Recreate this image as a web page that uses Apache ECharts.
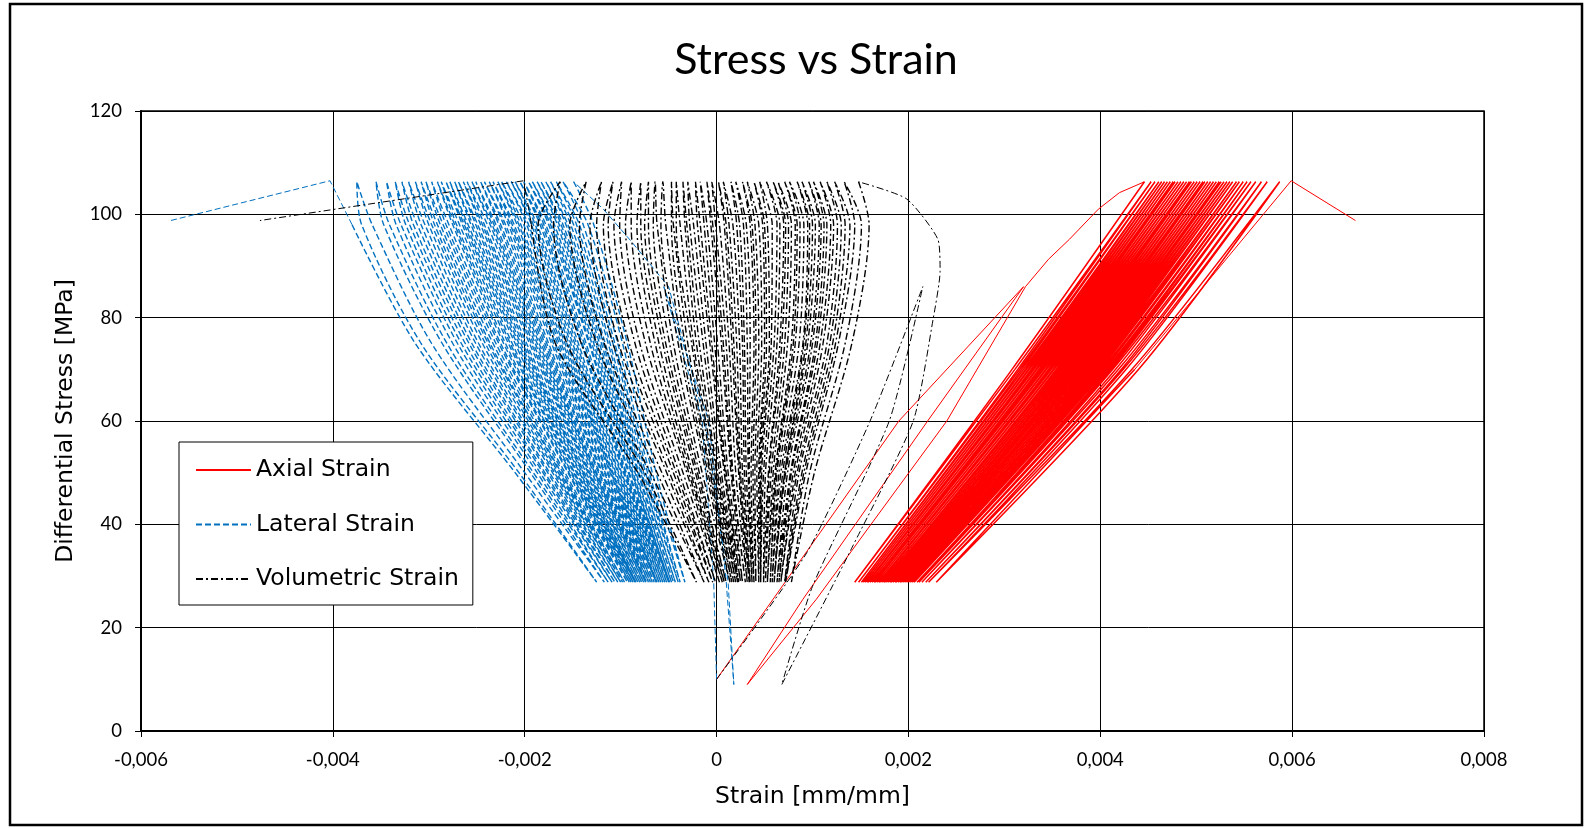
<!DOCTYPE html>
<html>
<head>
<meta charset="utf-8">
<title>Stress vs Strain</title>
<script src="https://cdn.jsdelivr.net/npm/echarts@6/dist/echarts.min.js"></script>
<style>
  html, body { margin: 0; padding: 0; background: #fff; }
  #chart { width: 1593px; height: 828px; }
</style>
</head>
<body>
<div id="chart"></div>
<script>
// stress levels (MPa) at which each unloading / reloading branch is read
const cycleStress = [28.8, 50, 75, 98, 106.3]
const axialCycleStress = [28.8, 70, 106.3]

// first load / unload / reload up to the first 106 MPa peak
const axialStartStrain = [0, 0.00114, 0.0019, 0.0032, 0.0022, 0.0009, 0.00032, 0.00104, 0.00161, 0.0024, 0.00322, 0.00346, 0.00368, 0.00398, 0.0042, 0.00446]
const axialStartStress = [10, 40, 60, 86, 60, 25.5, 9, 25.5, 40, 60, 86, 91.3, 95.2, 101, 104.2, 106.3]
const lateralStartStrain = [0, -0.00003, -0.00015, -0.00055, -0.00008, 0.0001, 0.00018, 0.00012, -0.00012, -0.0005, -0.0009, -0.00118, -0.00149]
const lateralStartStress = [10, 29, 60, 86, 60, 29, 9, 29, 60, 86, 95, 101, 106.3]
const volStartStrain = [0, 0.00094, 0.0016, 0.00215, 0.0018, 0.001, 0.00068, 0.00142, 0.00205, 0.00226, 0.00233, 0.00231, 0.00198, 0.00148]
const volStartStress = [10, 34.5, 60, 86, 60, 28, 9, 35.8, 60, 80, 89, 95, 103, 106.3]

// unloading branches, one value per cycle
const axialAt29 = [0.00144, 0.00148, 0.00151, 0.00153, 0.00155, 0.00157, 0.00158, 0.0016, 0.00162, 0.00164, 0.00165, 0.00167, 0.00169, 0.0017, 0.00172, 0.00174, 0.00175, 0.00177, 0.00179, 0.00181, 0.00182, 0.00184, 0.00186, 0.00187, 0.00189, 0.00191, 0.00192, 0.00194, 0.00196, 0.00198, 0.002, 0.00202, 0.00204, 0.00206, 0.00209, 0.00211, 0.00214, 0.00218, 0.00221, 0.00229]
const axialAt70 = [0.00308, 0.00314, 0.00318, 0.00322, 0.00325, 0.00328, 0.0033, 0.00333, 0.00336, 0.00338, 0.0034, 0.00343, 0.00346, 0.00348, 0.00351, 0.00354, 0.00356, 0.00359, 0.00362, 0.00365, 0.00367, 0.0037, 0.00372, 0.00375, 0.00378, 0.00381, 0.00382, 0.00385, 0.00388, 0.00391, 0.00394, 0.00397, 0.004, 0.00404, 0.00408, 0.00411, 0.00416, 0.00422, 0.00427, 0.0044]
const axialAt106 = [0.00446, 0.00453, 0.00457, 0.00461, 0.00464, 0.00467, 0.0047, 0.00473, 0.00476, 0.00478, 0.00481, 0.00484, 0.00487, 0.0049, 0.00493, 0.00495, 0.00498, 0.00501, 0.00504, 0.00507, 0.00509, 0.00512, 0.00515, 0.00518, 0.00521, 0.00524, 0.00526, 0.00529, 0.00532, 0.00535, 0.00538, 0.00542, 0.00545, 0.00549, 0.00553, 0.00557, 0.00562, 0.00568, 0.00574, 0.00587]

const lateralAt29 = [-0.00033, -0.00038, -0.0004, -0.00043, -0.00045, -0.00047, -0.00049, -0.0005, -0.00052, -0.00054, -0.00056, -0.00058, -0.0006, -0.00062, -0.00063, -0.00065, -0.00067, -0.00069, -0.00071, -0.00073, -0.00074, -0.00076, -0.00078, -0.0008, -0.00082, -0.00084, -0.00085, -0.00087, -0.00089, -0.00091, -0.00093, -0.00096, -0.00098, -0.001, -0.00103, -0.00106, -0.00109, -0.00113, -0.00117, -0.00125]
const lateralAt50 = [-0.00063, -0.0007, -0.00074, -0.00078, -0.00081, -0.00084, -0.00087, -0.00089, -0.00092, -0.00095, -0.00097, -0.001, -0.00103, -0.00106, -0.00109, -0.00111, -0.00114, -0.00117, -0.0012, -0.00123, -0.00126, -0.00128, -0.00132, -0.00134, -0.00138, -0.0014, -0.00143, -0.00146, -0.00149, -0.00152, -0.00155, -0.0016, -0.00163, -0.00167, -0.00171, -0.00176, -0.00181, -0.00187, -0.00194, -0.00206]
const lateralAt75 = [-0.00093, -0.00103, -0.00108, -0.00113, -0.00118, -0.00122, -0.00126, -0.0013, -0.00133, -0.00138, -0.00141, -0.00146, -0.0015, -0.00154, -0.00158, -0.00162, -0.00166, -0.0017, -0.00175, -0.00179, -0.00183, -0.00187, -0.00191, -0.00195, -0.002, -0.00204, -0.00208, -0.00213, -0.00217, -0.00222, -0.00227, -0.00233, -0.00238, -0.00244, -0.00251, -0.00258, -0.00266, -0.00275, -0.00286, -0.00308]
const lateralAt98 = [-0.00128, -0.00139, -0.00146, -0.00152, -0.00157, -0.00162, -0.00166, -0.00171, -0.00175, -0.0018, -0.00184, -0.00189, -0.00193, -0.00198, -0.00204, -0.00208, -0.00213, -0.00217, -0.00222, -0.00227, -0.00232, -0.00236, -0.00242, -0.00246, -0.00251, -0.00256, -0.00261, -0.00265, -0.00271, -0.00275, -0.00282, -0.00288, -0.00294, -0.003, -0.00308, -0.00316, -0.00324, -0.00334, -0.00347, -0.0037]
const lateralAt106 = [-0.00149, -0.0016, -0.00167, -0.00173, -0.00178, -0.00183, -0.00187, -0.00192, -0.00196, -0.00201, -0.00205, -0.0021, -0.00214, -0.00219, -0.00224, -0.00228, -0.00233, -0.00237, -0.00242, -0.00246, -0.00251, -0.00255, -0.0026, -0.00264, -0.00269, -0.00273, -0.00278, -0.00282, -0.00287, -0.00291, -0.00297, -0.00303, -0.00308, -0.00314, -0.00321, -0.00328, -0.00335, -0.00344, -0.00355, -0.00375]

const volAt29 = [0.00078, 0.00072, 0.00071, 0.00067, 0.00065, 0.00063, 0.0006, 0.0006, 0.00058, 0.00056, 0.00053, 0.00051, 0.00049, 0.00046, 0.00046, 0.00044, 0.00041, 0.00039, 0.00037, 0.00035, 0.00034, 0.00032, 0.0003, 0.00027, 0.00025, 0.00023, 0.00022, 0.0002, 0.00018, 0.00016, 0.00014, 0.0001, 0.00008, 0.00006, 0.00003, -0.00001, -0.00004, -0.00008, -0.00013, -0.00021]
const volAt50 = [0.00102, 0.00093, 0.00089, 0.00084, 0.0008, 0.00077, 0.00072, 0.00071, 0.00067, 0.00063, 0.00061, 0.00057, 0.00054, 0.00049, 0.00046, 0.00044, 0.0004, 0.00036, 0.00033, 0.00029, 0.00025, 0.00023, 0.00017, 0.00015, 0.0001, 0.00008, 0.00003, 0, -0.00004, -0.00007, -0.00011, -0.00018, -0.00022, -0.00027, -0.00031, -0.00039, -0.00045, -0.00052, -0.00062, -0.00075]
const volAt75 = [0.00141, 0.00127, 0.00121, 0.00115, 0.00108, 0.00103, 0.00098, 0.00093, 0.0009, 0.00082, 0.00078, 0.00071, 0.00066, 0.0006, 0.00055, 0.0005, 0.00044, 0.00039, 0.00032, 0.00027, 0.00021, 0.00016, 0.0001, 0.00005, -0.00002, -0.00007, -0.00014, -0.00021, -0.00026, -0.00033, -0.0004, -0.00049, -0.00056, -0.00064, -0.00074, -0.00085, -0.00096, -0.00108, -0.00125, -0.00156]
const volAt98 = [0.00159, 0.00144, 0.00134, 0.00126, 0.00119, 0.00112, 0.00107, 0.001, 0.00095, 0.00087, 0.00082, 0.00075, 0.0007, 0.00063, 0.00053, 0.00048, 0.0004, 0.00035, 0.00028, 0.00021, 0.00013, 0.00008, -0.00001, -0.00006, -0.00013, -0.0002, -0.00028, -0.00033, -0.00042, -0.00047, -0.00058, -0.00066, -0.00075, -0.00083, -0.00095, -0.00107, -0.00118, -0.00132, -0.00153, -0.00186]
const volAt106 = [0.00148, 0.00133, 0.00123, 0.00115, 0.00108, 0.00101, 0.00096, 0.00089, 0.00084, 0.00076, 0.00071, 0.00064, 0.00059, 0.00052, 0.00045, 0.00039, 0.00032, 0.00027, 0.0002, 0.00015, 0.00007, 0.00002, -0.00005, -0.0001, -0.00017, -0.00022, -0.0003, -0.00035, -0.00042, -0.00047, -0.00056, -0.00064, -0.00071, -0.00079, -0.00089, -0.00099, -0.00108, -0.0012, -0.00136, -0.00163]

// reloading branches (from each 28.8 MPa trough up to the next peak)
const axialLoad70 = [0.00311, 0.00316, 0.0032, 0.00323, 0.00326, 0.00329, 0.00331, 0.00334, 0.00337, 0.00339, 0.00341, 0.00344, 0.00347, 0.00349, 0.00352, 0.00355, 0.00357, 0.0036, 0.00363, 0.00366, 0.00368, 0.00371, 0.00373, 0.00376, 0.00379, 0.00381, 0.00383, 0.00386, 0.00389, 0.00392, 0.00395, 0.00398, 0.00402, 0.00406, 0.00409, 0.00413, 0.00419, 0.00424, 0.00433, 0.00436]

const lateralLoad50 = [-0.00067, -0.00072, -0.00076, -0.00079, -0.00082, -0.00085, -0.00088, -0.00091, -0.00094, -0.00096, -0.00099, -0.00102, -0.00105, -0.00108, -0.0011, -0.00113, -0.00116, -0.00119, -0.00122, -0.00125, -0.00127, -0.0013, -0.00133, -0.00136, -0.00139, -0.00142, -0.00145, -0.00148, -0.00151, -0.00154, -0.00158, -0.00162, -0.00165, -0.00169, -0.00174, -0.00179, -0.00184, -0.00191, -0.002, -0.0021]
const lateralLoad75 = [-0.00098, -0.00106, -0.00111, -0.00116, -0.0012, -0.00124, -0.00128, -0.00132, -0.00136, -0.0014, -0.00144, -0.00148, -0.00152, -0.00156, -0.0016, -0.00164, -0.00168, -0.00172, -0.00177, -0.00181, -0.00185, -0.00189, -0.00193, -0.00198, -0.00202, -0.00206, -0.0021, -0.00215, -0.0022, -0.00225, -0.0023, -0.00236, -0.00241, -0.00248, -0.00255, -0.00262, -0.0027, -0.00281, -0.00297, -0.00314]
const lateralLoad98 = [-0.00134, -0.00143, -0.00149, -0.00155, -0.0016, -0.00164, -0.00169, -0.00173, -0.00178, -0.00182, -0.00187, -0.00191, -0.00196, -0.00201, -0.00206, -0.00211, -0.00215, -0.0022, -0.00225, -0.0023, -0.00234, -0.00239, -0.00244, -0.00249, -0.00254, -0.00259, -0.00263, -0.00268, -0.00273, -0.00279, -0.00285, -0.00291, -0.00297, -0.00304, -0.00312, -0.0032, -0.00329, -0.00341, -0.00359, -0.0038]

const volLoad50 = [0.00097, 0.00091, 0.00086, 0.00082, 0.00078, 0.00074, 0.00071, 0.00069, 0.00065, 0.00062, 0.00059, 0.00055, 0.00051, 0.00047, 0.00045, 0.00042, 0.00038, 0.00034, 0.00031, 0.00027, 0.00024, 0.0002, 0.00016, 0.00012, 0.00009, 0.00005, 0.00001, -0.00002, -0.00006, -0.00009, -0.00015, -0.0002, -0.00025, -0.00029, -0.00035, -0.00042, -0.00049, -0.00057, -0.00069, -0.00082]
const volLoad75 = [0.00134, 0.00124, 0.00118, 0.00111, 0.00105, 0.001, 0.00095, 0.00091, 0.00086, 0.0008, 0.00074, 0.00068, 0.00063, 0.00057, 0.00052, 0.00047, 0.00041, 0.00035, 0.00029, 0.00024, 0.00018, 0.00013, 0.00007, 0.00001, -0.00005, -0.00011, -0.00018, -0.00024, -0.0003, -0.00037, -0.00045, -0.00053, -0.0006, -0.00069, -0.0008, -0.00091, -0.00102, -0.00117, -0.00141, -0.00168]
const volLoad98 = [0.00151, 0.00139, 0.0013, 0.00122, 0.00115, 0.00109, 0.00103, 0.00097, 0.00091, 0.00084, 0.00078, 0.00072, 0.00066, 0.00058, 0.0005, 0.00044, 0.00037, 0.00031, 0.00024, 0.00017, 0.0001, 0.00003, -0.00004, -0.0001, -0.00017, -0.00024, -0.00031, -0.00038, -0.00045, -0.00053, -0.00062, -0.00071, -0.00079, -0.00089, -0.00101, -0.00113, -0.00125, -0.00143, -0.0017, -0.00193]

// last peak and post-peak drop
const axialEndStrain = [0.00599, 0.00666]
const lateralEndStrain = [-0.00403, -0.00569]
const volEndStrain = [-0.00201, -0.00476]
const endStress = [106.5, 98.8]

const xTicks = { min: -0.006, max: 0.008, step: 0.002 }
const yTicks = { min: 0, max: 120, step: 20 }

const pairs = (xs, ys) => xs.map((x, k) => [x, ys[k]])

// for each cycle: unload top -> trough, then reload trough -> next top
function buildCycles(levels, unload, load) {
  const pts = []
  const top = levels.length - 1
  for (let i = 0; i < unload[0].length; i++) {
    for (let k = top; k >= 0; k--) pts.push([unload[k][i], levels[k]])
    for (let k = 1; k < top; k++) pts.push([load[k - 1][i], levels[k]])
  }
  return pts
}

const axialCycles = buildCycles(axialCycleStress, [axialAt29, axialAt70, axialAt106], [axialLoad70])
const lateralCycles = buildCycles(cycleStress,
  [lateralAt29, lateralAt50, lateralAt75, lateralAt98, lateralAt106],
  [lateralLoad50, lateralLoad75, lateralLoad98])
const volCycles = buildCycles(cycleStress,
  [volAt29, volAt50, volAt75, volAt98, volAt106],
  [volLoad50, volLoad75, volLoad98])

// start and end pieces share the colour / name of their cycle series
const axialOuter = pairs(axialStartStrain, axialStartStress)
const lateralOuter = pairs(lateralStartStrain, lateralStartStress)
const volOuter = pairs(volStartStrain, volStartStress)
const axialTail = [axialCycles[axialCycles.length - 1]].concat(pairs(axialEndStrain, endStress))
const lateralTail = [lateralCycles[lateralCycles.length - 1]].concat(pairs(lateralEndStrain, endStress))
const volTail = [volCycles[volCycles.length - 1]].concat(pairs(volEndStrain, endStress))

const TITLE_FONT = 'Lato, "DejaVu Sans", sans-serif'
const TEXT_FONT = '"DejaVu Sans", sans-serif'

const RED = '#ff0000'
const BLUE = '#0070c0'
const BLACK = '#000000'
const DASH = [6, 3]
const DASH_DOT = [7, 3, 2, 3]

function lineSeries(name, data, color, width, type, smooth) {
  return {
    name, type: 'line', data, color,
    symbol: 'none', silent: true, smooth,
    lineStyle: { color, width, type }
  }
}

const chart = echarts.init(document.getElementById('chart'))
chart.setOption({
  animation: false,
  backgroundColor: '#fff',
  title: {
    text: 'Stress vs Strain',
    left: 811,
    top: 34,
    textAlign: 'center',
    textStyle: { fontFamily: TITLE_FONT, fontSize: 43, fontWeight: 'normal', color: '#000' }
  },
  graphic: [{
    type: 'rect',
    silent: true,
    shape: { x: 10, y: 4, width: 1572, height: 821 },
    style: { fill: 'none', stroke: '#000', lineWidth: 2.5 }
  }],
  grid: {
    left: 141, right: 109, top: 111, bottom: 97,
    show: true, borderColor: '#000', borderWidth: 1.5
  },
  legend: {
    orient: 'vertical',
    left: 179,
    top: 442,
    data: ['Axial Strain', 'Lateral Strain', 'Volumetric Strain'],
    selectedMode: false,
    itemWidth: 55,
    itemHeight: 12,
    itemGap: 30.5,
    padding: [16, 14, 14, 16],
    backgroundColor: '#fff',
    borderColor: '#000',
    borderWidth: 1,
    itemStyle: { opacity: 0 },
    textStyle: { fontFamily: TEXT_FONT, fontSize: 23.5, color: '#000' }
  },
  xAxis: {
    type: 'value',
    min: xTicks.min,
    max: xTicks.max,
    interval: xTicks.step,
    name: 'Strain [mm/mm]',
    nameLocation: 'middle',
    nameGap: 54,
    nameTextStyle: { fontFamily: TEXT_FONT, fontSize: 23.5, color: '#000' },
    axisLine: { onZero: false, lineStyle: { color: '#000', width: 2 } },
    axisTick: { show: true, length: 6, lineStyle: { color: '#000' } },
    axisLabel: {
      margin: 20,
      fontFamily: TITLE_FONT,
      fontSize: 18.5,
      color: '#000',
      formatter: v => (Math.abs(v) < 1e-9 ? '0' : v.toFixed(3).replace('.', ','))
    },
    splitLine: { show: true, lineStyle: { color: '#000', width: 1 } }
  },
  yAxis: {
    type: 'value',
    min: yTicks.min,
    max: yTicks.max,
    interval: yTicks.step,
    name: 'Differential Stress [MPa]',
    nameLocation: 'middle',
    nameGap: 63,
    nameTextStyle: { fontFamily: TEXT_FONT, fontSize: 23.5, color: '#000' },
    axisLine: { show: true, onZero: false, lineStyle: { color: '#000', width: 2 } },
    axisTick: { show: true, length: 6, lineStyle: { color: '#000' } },
    axisLabel: { margin: 19, fontFamily: TITLE_FONT, fontSize: 18.5, color: '#000' },
    splitLine: { show: true, lineStyle: { color: '#000', width: 1 } }
  },
  series: [
    lineSeries('Axial Strain', axialOuter, RED, 1, 'solid', false),
    lineSeries('Axial Strain', axialCycles, RED, 1.5, 'solid', 0.3),
    lineSeries('Axial Strain', axialTail, RED, 1, 'solid', false),
    lineSeries('Lateral Strain', lateralOuter, BLUE, 1, DASH, false),
    lineSeries('Lateral Strain', lateralCycles, BLUE, 1.4, DASH, 0.3),
    lineSeries('Lateral Strain', lateralTail, BLUE, 1, DASH, false),
    lineSeries('Volumetric Strain', volOuter, BLACK, 1, DASH_DOT, 0.2),
    lineSeries('Volumetric Strain', volCycles, BLACK, 1.4, DASH_DOT, 0.3),
    lineSeries('Volumetric Strain', volTail, BLACK, 1, DASH_DOT, false)
  ]
})
</script>
</body>
</html>
